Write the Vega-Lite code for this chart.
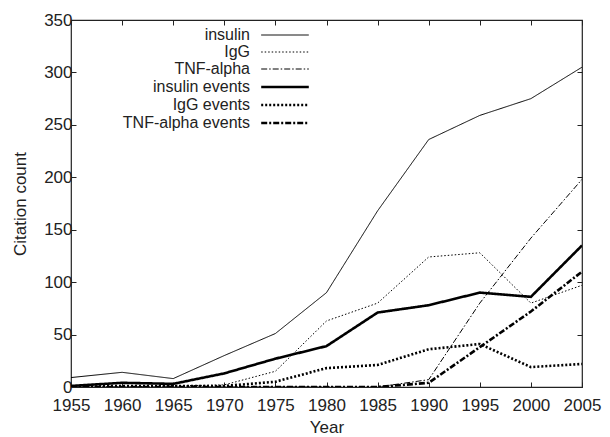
{
  "$schema": "https://vega.github.io/schema/vega-lite/v6.json",
  "autosize": {"type": "none"},
  "padding": {"left": 71, "top": 20, "right": 28, "bottom": 50},
  "width": 511,
  "height": 367,
  "background": "white",
  "config": {
    "font": "Liberation Sans",
    "view": {"stroke": "#222", "strokeWidth": 1.2},
    "axis": {
      "labelFont": "Liberation Sans", "titleFont": "Liberation Sans",
      "labelFontSize": 17, "titleFontSize": 17, "titleFontWeight": "normal",
      "labelColor": "#222", "titleColor": "#222",
      "grid": false, "domain": false, "tickColor": "#222", "tickSize": -5, "tickWidth": 1
    }
  },
  "data": {"values": [
    {"Year": 1955, "series": "insulin", "count": 9},
    {"Year": 1960, "series": "insulin", "count": 14},
    {"Year": 1965, "series": "insulin", "count": 8},
    {"Year": 1970, "series": "insulin", "count": 30},
    {"Year": 1975, "series": "insulin", "count": 51},
    {"Year": 1980, "series": "insulin", "count": 90},
    {"Year": 1985, "series": "insulin", "count": 168},
    {"Year": 1990, "series": "insulin", "count": 236},
    {"Year": 1995, "series": "insulin", "count": 259},
    {"Year": 2000, "series": "insulin", "count": 275},
    {"Year": 2005, "series": "insulin", "count": 305},
    {"Year": 1955, "series": "IgG", "count": 0},
    {"Year": 1960, "series": "IgG", "count": 0},
    {"Year": 1965, "series": "IgG", "count": 1},
    {"Year": 1970, "series": "IgG", "count": 2},
    {"Year": 1975, "series": "IgG", "count": 15},
    {"Year": 1980, "series": "IgG", "count": 63},
    {"Year": 1985, "series": "IgG", "count": 80},
    {"Year": 1990, "series": "IgG", "count": 124},
    {"Year": 1995, "series": "IgG", "count": 128},
    {"Year": 2000, "series": "IgG", "count": 80},
    {"Year": 2005, "series": "IgG", "count": 97},
    {"Year": 1955, "series": "TNF-alpha", "count": 0},
    {"Year": 1960, "series": "TNF-alpha", "count": 0},
    {"Year": 1965, "series": "TNF-alpha", "count": 0},
    {"Year": 1970, "series": "TNF-alpha", "count": 0},
    {"Year": 1975, "series": "TNF-alpha", "count": 0},
    {"Year": 1980, "series": "TNF-alpha", "count": 0},
    {"Year": 1985, "series": "TNF-alpha", "count": 0},
    {"Year": 1990, "series": "TNF-alpha", "count": 7},
    {"Year": 1995, "series": "TNF-alpha", "count": 80},
    {"Year": 2000, "series": "TNF-alpha", "count": 142},
    {"Year": 2005, "series": "TNF-alpha", "count": 198},
    {"Year": 1955, "series": "insulin events", "count": 1},
    {"Year": 1960, "series": "insulin events", "count": 4},
    {"Year": 1965, "series": "insulin events", "count": 3},
    {"Year": 1970, "series": "insulin events", "count": 13},
    {"Year": 1975, "series": "insulin events", "count": 27},
    {"Year": 1980, "series": "insulin events", "count": 39},
    {"Year": 1985, "series": "insulin events", "count": 71},
    {"Year": 1990, "series": "insulin events", "count": 78},
    {"Year": 1995, "series": "insulin events", "count": 90},
    {"Year": 2000, "series": "insulin events", "count": 86},
    {"Year": 2005, "series": "insulin events", "count": 135},
    {"Year": 1955, "series": "IgG events", "count": 0},
    {"Year": 1960, "series": "IgG events", "count": 1},
    {"Year": 1965, "series": "IgG events", "count": 1},
    {"Year": 1970, "series": "IgG events", "count": 1},
    {"Year": 1975, "series": "IgG events", "count": 5},
    {"Year": 1980, "series": "IgG events", "count": 18},
    {"Year": 1985, "series": "IgG events", "count": 21},
    {"Year": 1990, "series": "IgG events", "count": 36},
    {"Year": 1995, "series": "IgG events", "count": 41},
    {"Year": 2000, "series": "IgG events", "count": 19},
    {"Year": 2005, "series": "IgG events", "count": 22},
    {"Year": 1955, "series": "TNF-alpha events", "count": 0},
    {"Year": 1960, "series": "TNF-alpha events", "count": 0},
    {"Year": 1965, "series": "TNF-alpha events", "count": 0},
    {"Year": 1970, "series": "TNF-alpha events", "count": 0},
    {"Year": 1975, "series": "TNF-alpha events", "count": 0},
    {"Year": 1980, "series": "TNF-alpha events", "count": 0},
    {"Year": 1985, "series": "TNF-alpha events", "count": 0},
    {"Year": 1990, "series": "TNF-alpha events", "count": 4},
    {"Year": 1995, "series": "TNF-alpha events", "count": 38},
    {"Year": 2000, "series": "TNF-alpha events", "count": 72},
    {"Year": 2005, "series": "TNF-alpha events", "count": 110}
  ]},
  "resolve": {"axis": {"x": "independent", "y": "independent"}},
  "layer": [
    {
      "mark": {"type": "line", "color": "black", "clip": true},
      "encoding": {
        "x": {"field": "Year", "type": "quantitative",
              "scale": {"domain": [1955, 2005], "nice": false, "zero": false},
              "axis": {"title": "Year", "values": [1955,1960,1965,1970,1975,1980,1985,1990,1995,2000,2005], "format": "d", "labelPadding": 15, "titlePadding": 6, "labelFlush": false}},
        "y": {"field": "count", "type": "quantitative",
              "scale": {"domain": [0, 350], "nice": false},
              "axis": {"title": "Citation count", "values": [0,50,100,150,200,250,300,350], "labelPadding": 4, "titlePadding": 14}},
        "strokeDash": {"field": "series", "type": "ordinal",
              "scale": {"type": "ordinal", "domain": ["insulin","IgG","TNF-alpha","insulin events","IgG events","TNF-alpha events"],
                        "range": [[1,0],[1.5,2],[6,2,1.5,2],[1,0],[2,2],[6,2,2,2]]},
              "legend": {"title": null, "orient": "none", "legendX": 204, "legendY": 6,
                         "symbolType": "M-2.8,0H2.8", "symbolSize": 289, "symbolStrokeColor": "black", "symbolFillColor": "transparent",
                         "labelFontSize": 16, "labelFont": "Liberation Sans", "labelColor": "#222",
                         "labelAlign": "right", "labelOffset": -45, "rowPadding": 0, "labelLimit": 300}},
        "strokeWidth": {"field": "series", "type": "ordinal",
              "scale": {"type": "ordinal", "domain": ["insulin","IgG","TNF-alpha","insulin events","IgG events","TNF-alpha events"],
                        "range": [1,1,1,2.6,2.6,2.6]},
              "legend": {"title": null, "orient": "none", "legendX": 204, "legendY": 6,
                         "symbolType": "M-2.8,0H2.8", "symbolSize": 289, "symbolStrokeColor": "black", "symbolFillColor": "transparent",
                         "labelFontSize": 16, "labelFont": "Liberation Sans", "labelColor": "#222",
                         "labelAlign": "right", "labelOffset": -45, "rowPadding": 0, "labelLimit": 300}}
      }
    },
    {
      "mark": {"type": "line", "opacity": 0},
      "encoding": {
        "x": {"field": "Year", "type": "quantitative",
              "axis": {"orient": "top", "title": null, "labels": false, "values": [1955,1960,1965,1970,1975,1980,1985,1990,1995,2000,2005]}},
        "y": {"field": "count", "type": "quantitative",
              "axis": {"orient": "right", "title": null, "labels": false, "values": [0,50,100,150,200,250,300,350]}},
        "detail": {"field": "series"}
      }
    }
  ]
}
